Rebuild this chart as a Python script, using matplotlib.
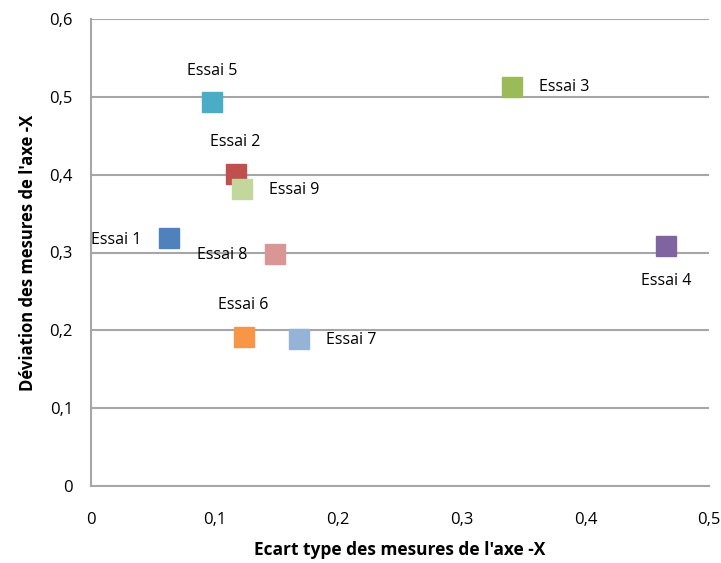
import matplotlib
matplotlib.use("Agg")
import matplotlib.pyplot as plt

labels = ["Essai 1", "Essai 2", "Essai 3", "Essai 4", "Essai 5",
          "Essai 6", "Essai 7", "Essai 8", "Essai 9"]
x_vals = [0.063, 0.117, 0.341, 0.465, 0.098, 0.1235, 0.168, 0.1486, 0.122]
y_vals = [0.319, 0.401, 0.513, 0.308, 0.494, 0.191, 0.189, 0.2985, 0.382]
colors = ["#4F81BD", "#C0504D", "#9BBB59", "#8064A2", "#4BACC6",
          "#F79646", "#95B3D7", "#D99694", "#C3D69B"]
# label placement: (dx px, dy px, ha)
placement = {
    "Essai 1": (-27, -2, "right"),
    "Essai 2": (0, 32, "center"),
    "Essai 3": (27, 0, "left"),
    "Essai 4": (0, -35, "center"),
    "Essai 5": (0, 31, "center"),
    "Essai 6": (0, 32, "center"),
    "Essai 7": (27, -1, "left"),
    "Essai 8": (-27, -1, "right"),
    "Essai 9": (27, -1, "left"),
}
xticks = [0, 0.1, 0.2, 0.3, 0.4, 0.5]
yticks = [0, 0.1, 0.2, 0.3, 0.4, 0.5, 0.6]

plt.rcParams['font.family'] = ['Open Sans', 'DejaVu Sans']

fig = plt.figure(figsize=(7.21, 5.63), dpi=100)
ax = fig.add_axes([91/721, 77/563, 618/721, 467/563])

grid_c = "#A6A6A6"
for yt in yticks[1:]:
    ax.axhline(yt, color=grid_c, lw=1.5, zorder=1)

for lab, x, y, c in zip(labels, x_vals, y_vals, colors):
    ax.plot([x], [y], marker="s", ms=15, color=c, mec=c, ls="none", zorder=3)
    dx, dy, ha = placement[lab]
    ax.annotate(lab, (x, y), xytext=(dx, dy), textcoords="offset pixels",
                ha=ha, va="center", fontsize=11.5, color="#000000", zorder=4)

ax.set_xlim(0, 0.5)
ax.set_ylim(0, 0.6)
ax.set_xticks(xticks)
ax.set_yticks(yticks)
ax.set_xticklabels(["0" if v == 0 else f"{v:.1f}".replace(".", ",") for v in xticks])
ax.set_yticklabels(["0" if v == 0 else f"{v:.1f}".replace(".", ",") for v in yticks])
ax.tick_params(axis="both", length=0, labelsize=12)
ax.tick_params(axis="x", pad=19)
ax.tick_params(axis="y", pad=13)
for s in ["top", "right"]:
    ax.spines[s].set_visible(False)
for s in ["left", "bottom"]:
    ax.spines[s].set_color(grid_c)
    ax.spines[s].set_linewidth(1.5)

ax.set_xlabel("Ecart type des mesures de l'axe -X", fontsize=12.5,
              fontweight="bold", labelpad=9)
ax.set_ylabel("Déviation des mesures de l'axe -X", fontsize=12,
              fontweight="bold", labelpad=9)

fig.savefig("out.png", dpi=100)
